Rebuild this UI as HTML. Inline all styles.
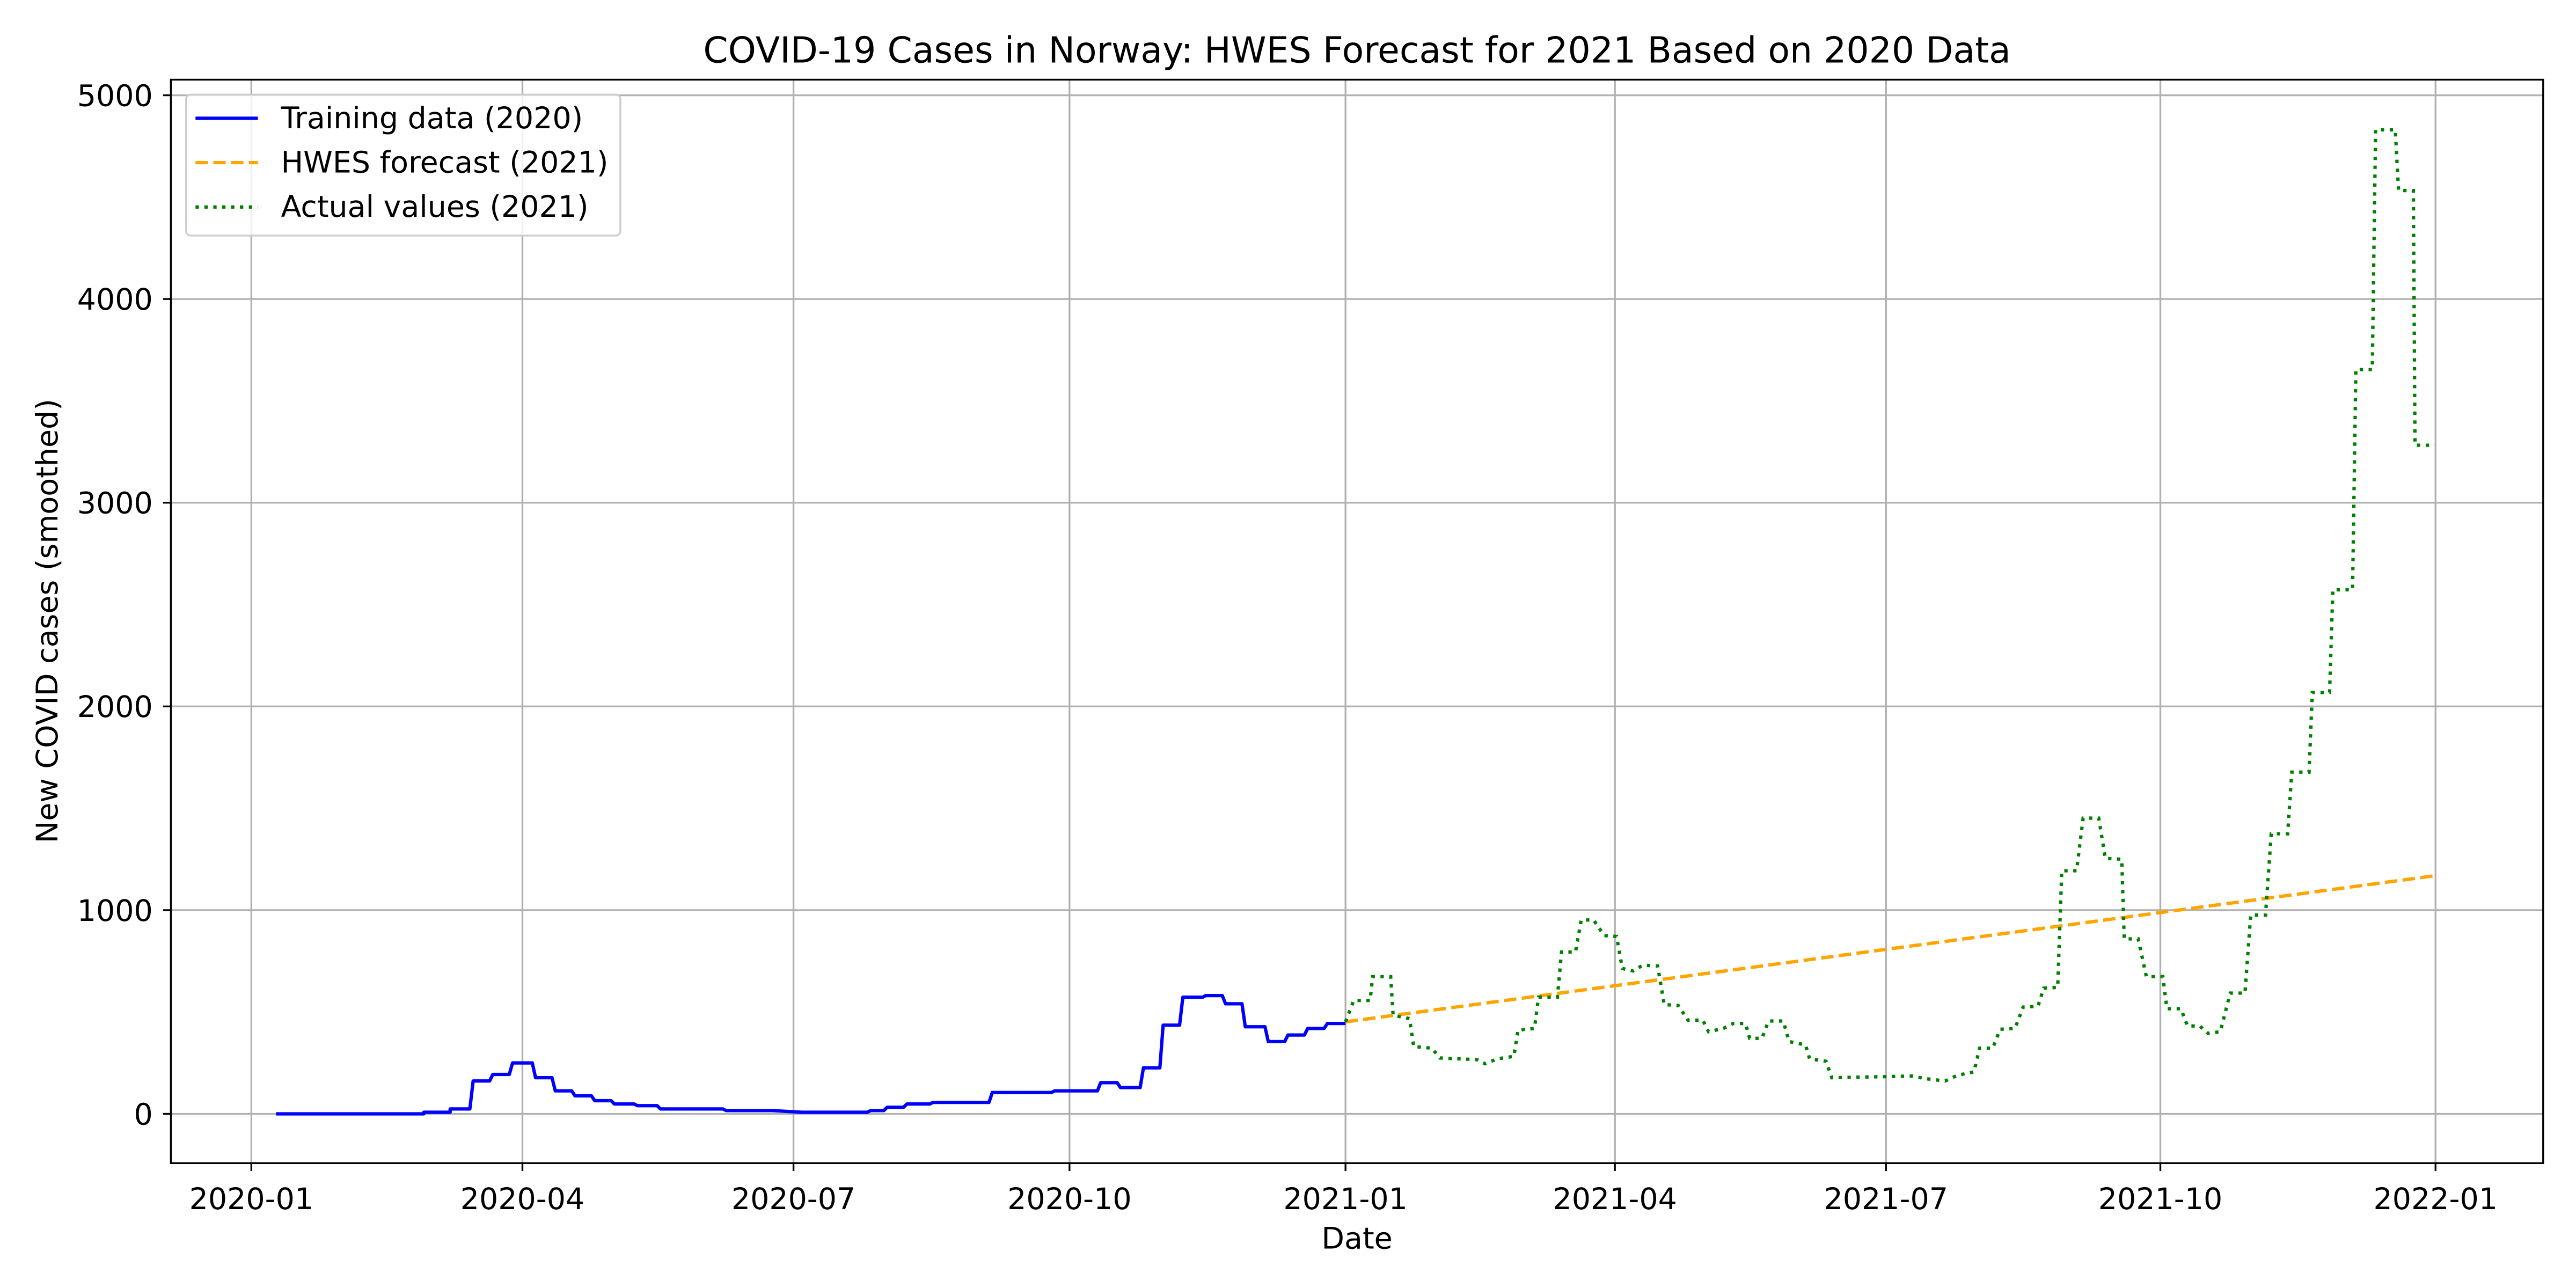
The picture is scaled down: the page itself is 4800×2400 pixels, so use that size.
<!DOCTYPE html>
<html><head><meta charset="utf-8"><style>html,body{margin:0;padding:0;background:#fff}svg{display:block}</style></head>
<body>
<svg xmlns="http://www.w3.org/2000/svg" width="4800" height="2400" viewBox="0 0 1568 784" font-family="'DejaVu Sans','Liberation Sans',sans-serif">
<rect width="1568" height="784" fill="#fff"/>
<g stroke="#b0b0b0" stroke-width="1.09">
<line x1="153" y1="48.5" x2="153" y2="708"/><line x1="318" y1="48.5" x2="318" y2="708"/><line x1="483" y1="48.5" x2="483" y2="708"/><line x1="651" y1="48.5" x2="651" y2="708"/><line x1="819" y1="48.5" x2="819" y2="708"/><line x1="983" y1="48.5" x2="983" y2="708"/><line x1="1148" y1="48.5" x2="1148" y2="708"/><line x1="1315" y1="48.5" x2="1315" y2="708"/><line x1="1482.5" y1="48.5" x2="1482.5" y2="708"/>
<line x1="104" y1="678" x2="1548" y2="678"/><line x1="104" y1="554" x2="1548" y2="554"/><line x1="104" y1="430" x2="1548" y2="430"/><line x1="104" y1="306" x2="1548" y2="306"/><line x1="104" y1="182" x2="1548" y2="182"/><line x1="104" y1="58" x2="1548" y2="58"/>
</g>
<path fill="none" stroke="#0000ff" stroke-width="2.04" stroke-linejoin="round" d="M168,678 H258 V677 H274 V675 H286 L288,658 H298 L300,654 H310 L312,647 H324 L326,656 H336 L338,664 H348 L350,667 H360 L362,670 H372 L374,672 H386 L388,673 H400 L402,675 H440 L442,676 H470 L488,677 H528 L530,676 H538 L540,674 H550 L552,672 H566 L568,671 H602 L604,665 H640 L642,664 H668 L670,659 H680 L682,662 H694 L696,650 H706 L708,624 H718 L720,607 H732 L734,606 H744 L746,611 H756 L758,625 H770 L772,634 H782 L784,630 H794 L796,626 H806 L808,623 H819"/>
<path fill="none" stroke="#ffa500" stroke-width="2.04" stroke-dasharray="7.55 3.27" d="M819,622 L1482.5,533"/>
<path fill="none" stroke="#008000" stroke-width="2.04" stroke-dasharray="2.04 3.37" d="M819,622 L824,609 H834 L835.5,594.5 H846.5 L848,618 L858,620 L860.5,637 L871.5,638 L876.5,644 L899,645 L904,647.5 L911.5,644.5 L921.5,643 L924,627 L934,626 L936.5,607 H948 L950.5,579.5 H959 L962.5,560 H970 L976.5,569.5 L984,570 L987.5,589.5 L994,591 L1000,587.5 L1009,588 L1013,611.5 L1021.5,612 L1027.5,621 H1036.5 L1040,628 L1049,626 L1055,623 H1062.5 L1065,632 H1072.5 L1076.5,621.5 H1085.5 L1089,634 L1099,636 L1101.5,644.5 L1111.5,646 L1115,656 L1164,655 L1171.5,656.5 L1184,658 L1191.5,654.5 L1201.5,652.5 L1205,638 H1213 L1217.5,626.5 L1226.5,626 L1231.5,613 L1240.5,612.5 L1244,601.5 L1252.5,601 L1255,530 H1264 L1268,498 H1277.5 L1281.5,522.5 L1291.5,523 L1293,571.5 H1301.5 L1306.5,594.5 H1316.5 L1319,614 H1327.5 L1331.5,624.5 H1339 L1344,629 L1351.5,628 L1357.5,604.5 H1366.5 L1370,557 H1379 L1382.5,507.5 H1392.5 L1395,470 H1405.5 L1407.5,421.5 H1418 L1420,359 H1432 L1434,225 H1444 L1446,79 H1458 L1460,116 H1469 L1470,271 H1482"/>
<rect x="104" y="48.5" width="1444" height="659.5" fill="none" stroke="#000" stroke-width="1.09"/>
<g stroke="#000" stroke-width="1.09">
<line x1="153" y1="708" x2="153" y2="712.8"/><line x1="318" y1="708" x2="318" y2="712.8"/><line x1="483" y1="708" x2="483" y2="712.8"/><line x1="651" y1="708" x2="651" y2="712.8"/><line x1="819" y1="708" x2="819" y2="712.8"/><line x1="983" y1="708" x2="983" y2="712.8"/><line x1="1148" y1="708" x2="1148" y2="712.8"/><line x1="1315" y1="708" x2="1315" y2="712.8"/><line x1="1482.5" y1="708" x2="1482.5" y2="712.8"/>
<line x1="99.2" y1="678" x2="104" y2="678"/><line x1="99.2" y1="554" x2="104" y2="554"/><line x1="99.2" y1="430" x2="104" y2="430"/><line x1="99.2" y1="306" x2="104" y2="306"/><line x1="99.2" y1="182" x2="104" y2="182"/><line x1="99.2" y1="58" x2="104" y2="58"/>
</g>
<g font-size="18.1" fill="#000" text-anchor="middle">
<text x="153" y="736">2020-01</text><text x="318" y="736">2020-04</text><text x="483" y="736">2020-07</text><text x="651" y="736">2020-10</text><text x="819" y="736">2021-01</text><text x="983" y="736">2021-04</text><text x="1148" y="736">2021-07</text><text x="1315" y="736">2021-10</text><text x="1482.5" y="736">2022-01</text>
<text x="826" y="760">Date</text>
</g>
<g font-size="18.1" fill="#000" text-anchor="end">
<text x="93" y="684.5">0</text><text x="93" y="560.5">1000</text><text x="93" y="436.5">2000</text><text x="93" y="312.5">3000</text><text x="93" y="188.5">4000</text><text x="93" y="64.5">5000</text>
</g>
<text transform="translate(35,378) rotate(-90)" font-size="18.1" text-anchor="middle">New COVID cases (smoothed)</text>
<text x="826" y="38" font-size="21.7" text-anchor="middle">COVID-19 Cases in Norway: HWES Forecast for 2021 Based on 2020 Data</text>
<rect x="113.3" y="57.6" width="264.3" height="85.8" rx="2.7" fill="#fff" fill-opacity="0.8" stroke="#cccccc" stroke-width="1.09"/>
<line x1="119" y1="72" x2="157" y2="72" stroke="#0000ff" stroke-width="2.04"/>
<line x1="119" y1="99" x2="157" y2="99" stroke="#ffa500" stroke-width="2.04" stroke-dasharray="7.55 3.27"/>
<line x1="119" y1="126" x2="157" y2="126" stroke="#008000" stroke-width="2.04" stroke-dasharray="2.04 3.37"/>
<g font-size="18.1" fill="#000">
<text x="171" y="78">Training data (2020)</text><text x="171" y="105">HWES forecast (2021)</text><text x="171" y="132">Actual values (2021)</text>
</g>
</svg>
</body></html>
